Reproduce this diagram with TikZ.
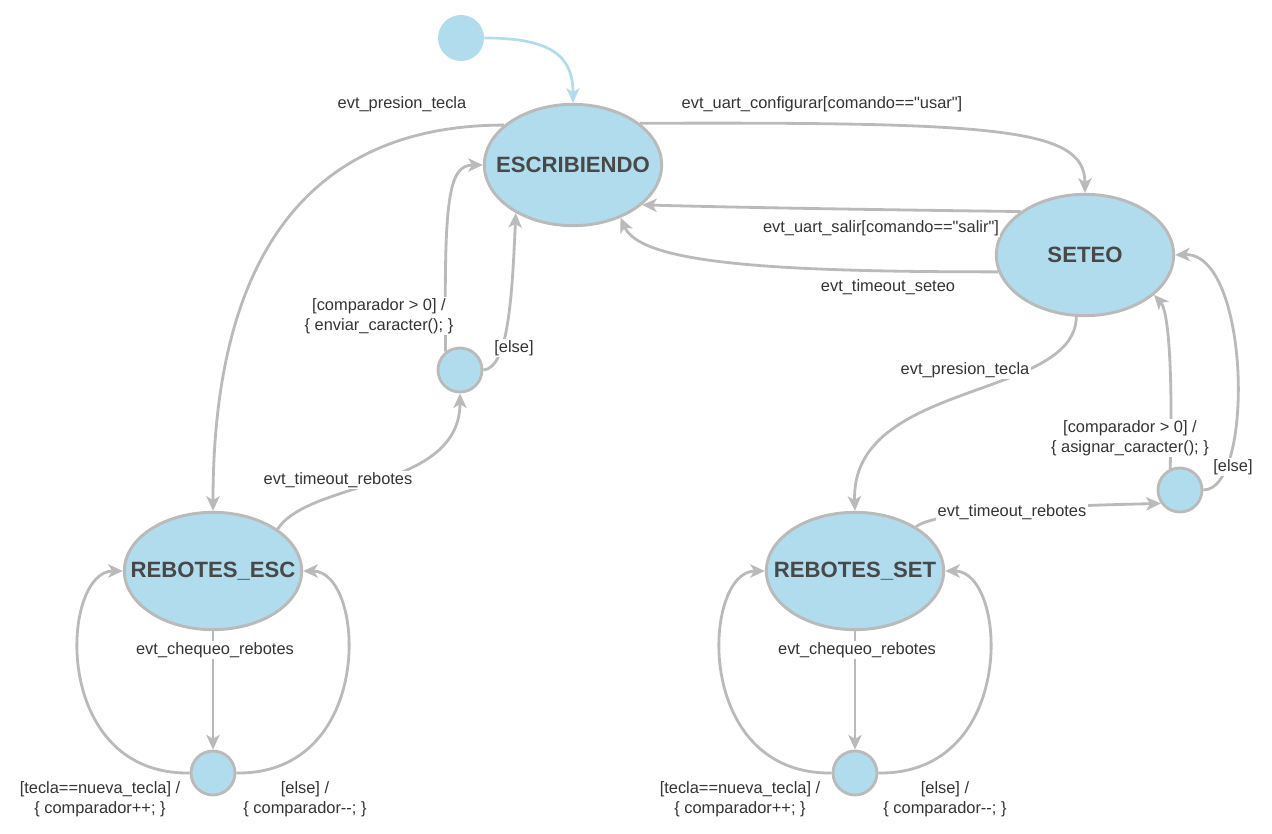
\documentclass[tikz,border=0pt]{standalone}
\usepackage{fontspec}
\setmainfont{Liberation Sans}[Ligatures=TeXOff]
\usetikzlibrary{arrows.meta,shapes.geometric}
\definecolor{stfill}{RGB}{176,220,238}
\definecolor{edgec}{RGB}{186,186,186}
\definecolor{lbl}{RGB}{51,51,51}
\definecolor{stname}{RGB}{72,72,72}
\newcommand{\stxt}[1]{\makebox[0pt][c]{#1}}
\begin{document}
\begin{tikzpicture}[x=0.75pt,y=-0.75pt,
  state/.style={ellipse, draw=edgec, line width=2.2pt, fill=stfill,
    minimum width=133pt, minimum height=91pt, inner sep=0pt,
    font=\fontsize{16.6}{20}\selectfont\bfseries, text=stname},
  choice/.style={circle, draw=edgec, line width=2.1pt, fill=stfill,
    minimum size=33pt, inner sep=0pt},
  initst/.style={circle, fill=stfill, minimum size=34.5pt, inner sep=0pt},
  tr/.style={draw=edgec, line width=2.1pt, -{Stealth[length=11pt,width=10pt,inset=3pt]}},
  initr/.style={draw=stfill, line width=2pt, -{Stealth[length=11pt,width=10pt,inset=3pt]}},
  lab/.style={font=\fontsize{12.3}{15}\selectfont, text=lbl, align=center, fill=white, inner sep=1pt}]
\useasboundingbox (0,0) rectangle (1272,834);
\fill[white] (0,0) rectangle (1272,834);

% states
\node[initst] (init) at (461,38) {};
\node[state] (esc) at (573,165) {\stxt{ESCRIBIENDO}};
\node[state] (set) at (1085,255) {\stxt{SETEO}};
\node[state, minimum height=88pt] (resc) at (213,571) {\stxt{REBOTES\_ESC}};
\node[state, minimum height=88pt] (rset) at (855,571) {\stxt{REBOTES\_SET}};
\node[choice] (c1) at (460,370) {};
\node[choice] (c2) at (1180,490) {};
\node[choice] (c3) at (213,773) {};
\node[choice] (c4) at (855,773) {};

% initial
\draw[initr] (init.east) .. controls (550,38) and (573,55) .. (esc.north);

% ESCRIBIENDO -> REBOTES_ESC
\draw[tr] (esc.150) .. controls (330,125) and (213,230) .. (resc.north);
\node[lab] at (402,104) {evt\_presion\_tecla};

% ESCRIBIENDO -> SETEO
\draw[tr] (esc.32) .. controls (1000,122) and (1085,128) .. (set.north);
\node[lab] at (822,104) {evt\_uart\_configurar[comando=="usar"]};

% SETEO -> ESCRIBIENDO (salir)
\draw[tr] (set.146) .. controls (900,210) and (760,208) .. (esc.-30);
\node[lab] at (881,228) {evt\_uart\_salir[comando=="salir"]};

% SETEO -> ESCRIBIENDO (timeout)
\draw[tr] (set.191) .. controls (760,272) and (640,262) .. (esc.-48);
\node[lab] at (888,287) {evt\_timeout\_seteo};

% SETEO -> REBOTES_SET
\draw[tr] (set.-98) .. controls (1075,400) and (850,380) .. (rset.north);
\node[lab] at (965,370) {evt\_presion\_tecla};

% REBOTES_ESC -> c1
\draw[tr] (resc.33) .. controls (310,480) and (460,490) .. (c1.south);
\node[lab] at (338,480) {evt\_timeout\_rebotes};

% c1 -> ESCRIBIENDO
\draw[tr] (c1.128) .. controls (444,200) and (448,165) .. (esc.west);
\node[lab] at (379,316) {[comparador > 0] /\\\{ enviar\_caracter(); \}};
\draw[tr] (c1.east) .. controls (508,368) and (512,300) .. (esc.-140);
\node[lab] at (514,348) {[else]};

% REBOTES_SET -> c2
\draw[tr] (rset.36) .. controls (940,508) and (1100,505) .. (c2.-145);
\node[lab] at (1012,512) {evt\_timeout\_rebotes};

% c2 -> SETEO
\draw[tr] (c2.115) .. controls (1172,420) and (1172,315) .. (set.-30);
\node[lab] at (1130,438) {[comparador > 0] /\\\{ asignar\_caracter(); \}};
\draw[tr] (c2.east) .. controls (1255,490) and (1250,252) .. (set.east);
\node[lab] at (1233,467) {[else]};

% REBOTES_ESC loops
\draw[tr] (resc.south) -- (c3.north);
\node[lab] at (215,650) {evt\_chequeo\_rebotes};
\draw[tr] (c3.west) .. controls (50,775) and (60,571) .. (resc.west);
\draw[tr] (c3.east) .. controls (376,775) and (366,571) .. (resc.east);
\node[lab] at (100,799) {[tecla==nueva\_tecla] /\\\{ comparador++; \}};
\node[lab] at (305,799) {[else] /\\\{ comparador--; \}};

% REBOTES_SET loops
\draw[tr] (rset.south) -- (c4.north);
\node[lab] at (857,650) {evt\_chequeo\_rebotes};
\draw[tr] (c4.west) .. controls (692,775) and (702,571) .. (rset.west);
\draw[tr] (c4.east) .. controls (1018,775) and (1008,571) .. (rset.east);
\node[lab] at (740,799) {[tecla==nueva\_tecla] /\\\{ comparador++; \}};
\node[lab] at (945,799) {[else] /\\\{ comparador--; \}};
\end{tikzpicture}
\end{document}
